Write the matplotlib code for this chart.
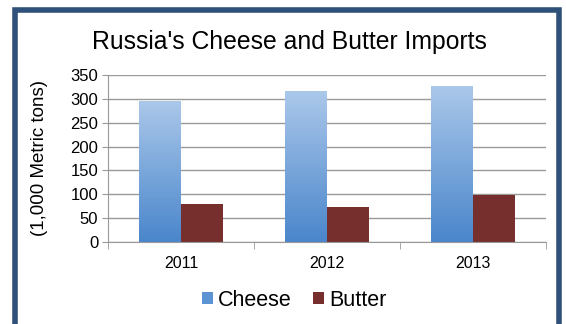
import numpy as np
import matplotlib.pyplot as plt
from matplotlib.patches import Rectangle
from matplotlib.colors import LinearSegmentedColormap

plt.rcParams['font.family'] = ['Liberation Sans', 'DejaVu Sans']

years = ['2011', '2012', '2013']
cheese = [296, 316, 327]
butter = [80, 73, 99]

fig = plt.figure(figsize=(5.66, 3.24), dpi=100)
fig.patch.set_facecolor('white')

# dark blue frame (bottom edge runs off the image)
fig.patches.append(Rectangle((14.5 / 566, -0.1), 544 / 566, 1 - 10.5 / 324 + 0.1,
                             transform=fig.transFigure, fill=False,
                             edgecolor='#2f5078', linewidth=4, zorder=0))

ax = fig.add_axes([108 / 566, 1 - 242 / 324, 438 / 566, 167 / 324])

x = np.arange(len(years))
w = 0.287
cheese_bars = ax.bar(x - w / 2, cheese, w, color='#5b93d3', zorder=2, label='Cheese')
butter_bars = ax.bar(x + w / 2, butter, w, color='#772f2d', zorder=2, label='Butter')

# vertical gradient on the cheese bars
cmap = LinearSegmentedColormap.from_list('blue', ['#4a86cb', '#abc8ea'])
grad = np.linspace(0, 1, 256).reshape(-1, 1)
for b in cheese_bars:
    x0, y0 = b.get_x(), b.get_y()
    im = ax.imshow(grad, cmap=cmap, origin='lower', aspect='auto',
                   extent=(x0, x0 + b.get_width(), y0, y0 + b.get_height()), zorder=2)
    im.set_clip_path(b)

ax.set_xlim(-0.5, 2.5)
ax.set_ylim(0, 350)
ax.set_yticks(range(0, 351, 50))
ax.set_xticks(x)
ax.set_xticklabels(years)
ax.set_xticks([-0.5, 0.5, 1.5, 2.5], minor=True)
ax.tick_params(axis='x', which='major', length=0, pad=10, labelsize=11.5)
ax.tick_params(axis='x', which='minor', length=5, color='#999999')
ax.tick_params(axis='y', length=4, color='#999999', labelsize=12, pad=3)
ax.yaxis.grid(True, color='#9a9a9a', linewidth=1)
ax.set_axisbelow(True)
for s in ['top', 'right']:
    ax.spines[s].set_visible(False)
for s in ['left', 'bottom']:
    ax.spines[s].set_color('#999999')

ax.set_ylabel('(1,000 Metric tons)', fontsize=13.5)
ax.yaxis.set_label_coords(-0.136, 0.5)

fig.text(0.512, 1 - 42 / 324, "Russia's Cheese and Butter Imports",
         ha='center', va='center', fontsize=17.8)

fig.legend(handles=[cheese_bars, butter_bars], loc='center',
           bbox_to_anchor=(0.52, 1 - 300 / 324), ncol=2, frameon=False,
           fontsize=15.5, handlelength=0.5, handleheight=0.5,
           handletextpad=0.25, columnspacing=1.0)

fig.savefig('out.png', dpi=100)
